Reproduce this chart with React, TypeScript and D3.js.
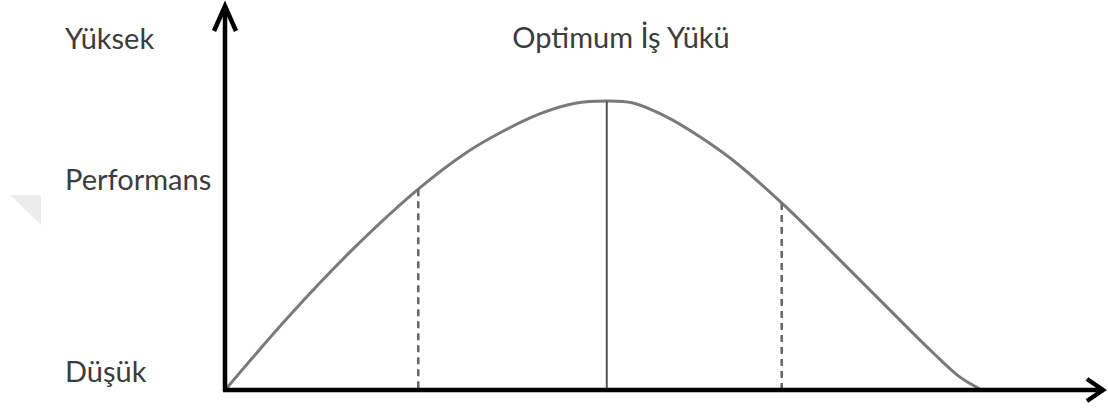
import React, { useEffect, useRef } from 'react';
import * as d3 from 'd3';

// curve (workload 0-100, performance 0-100)
const workload = [0, 8.5, 17.0, 25.5, 32.0, 36.3, 41.6, 46.3, 50.5, 54.0, 58.5, 62.9, 67.2, 73.7, 80.5, 87.1, 93.8, 97.3, 100];
const performance = [0, 25.7, 49.0, 69.4, 82.3, 88.9, 95.5, 99.2, 100, 99.3, 94.4, 87.5, 79.5, 64.6, 47.2, 29.9, 12.5, 4.2, 0];

// vertical guides
const markerX = [25.5, 50.5, 73.7];
const markerY = [69.4, 100, 64.6];
const markerKind = ['low', 'optimum', 'high'];

// y level labels
const levelLabels = ['Düşük', 'Performans', 'Yüksek'];
const levelValues = [2.4, 69, 118];

const title = 'Optimum İş Yükü';

const W = 1108;
const H = 412;

const App = () => {
  const svgRef = useRef(null);

  useEffect(() => {
    const svg = d3.select(svgRef.current);
    svg.selectAll('*').remove();

    const x = d3.scaleLinear().domain([0, 100]).range([226, 980]);
    const y = d3.scaleLinear().domain([0, 100]).range([389, 101]);

    const font = 'Lato, "Open Sans", sans-serif';

    // faint watermark corner
    svg.append('polygon')
      .attr('points', '10,195 41,195 41,225')
      .attr('fill', '#ececec');

    // curve
    const pts = workload.map((w, i) => [x(w), y(performance[i])]);
    const line = d3.line().curve(d3.curveCatmullRom.alpha(0.5));
    svg.append('path')
      .attr('d', line(pts))
      .attr('fill', 'none')
      .attr('stroke', '#7a7a7a')
      .attr('stroke-width', 3);

    // guides
    markerX.forEach((m, i) => {
      const solid = markerKind[i] === 'optimum';
      svg.append('line')
        .attr('x1', x(m)).attr('x2', x(m))
        .attr('y1', y(markerY[i])).attr('y2', y(0))
        .attr('stroke', solid ? '#555' : '#666')
        .attr('stroke-width', solid ? 2 : 2.5)
        .attr('stroke-dasharray', solid ? null : '7,5');
    });

    // axes with open arrowheads
    const ax = svg.append('g')
      .attr('stroke', '#000')
      .attr('stroke-width', 4.5)
      .attr('fill', 'none')
      .attr('stroke-linecap', 'butt');

    ax.append('line')
      .attr('x1', x(0) - 1).attr('x2', x(0) - 1)
      .attr('y1', y(0) + 2).attr('y2', 6);
    ax.append('path')
      .attr('d', `M${x(0) - 12},31 L${x(0) - 1},6 L${x(0) + 10},31`)
      .attr('stroke-linejoin', 'miter');

    ax.append('line')
      .attr('x1', x(0) - 3).attr('x2', 1103)
      .attr('y1', y(0) + 1).attr('y2', y(0) + 1);
    ax.append('path')
      .attr('d', `M1087,${y(0) - 10} L1103,${y(0) + 1} L1087,${y(0) + 12}`)
      .attr('stroke-linejoin', 'miter');

    // level labels
    levelLabels.forEach((t, i) => {
      svg.append('text')
        .attr('x', 65)
        .attr('y', y(levelValues[i]))
        .attr('font-family', font)
        .attr('font-size', 29)
        .attr('fill', '#3c3c3c')
        .text(t);
    });

    // title
    svg.append('text')
      .attr('x', 621)
      .attr('y', 48)
      .attr('text-anchor', 'middle')
      .attr('font-family', font)
      .attr('font-size', 29)
      .attr('fill', '#3c3c3c')
      .text(title);
  }, []);

  return (
    <svg
      ref={svgRef}
      width={W}
      height={H}
      style={{ position: 'absolute', left: 0, top: 0, background: '#fff' }}
    />
  );
};

export default App;
